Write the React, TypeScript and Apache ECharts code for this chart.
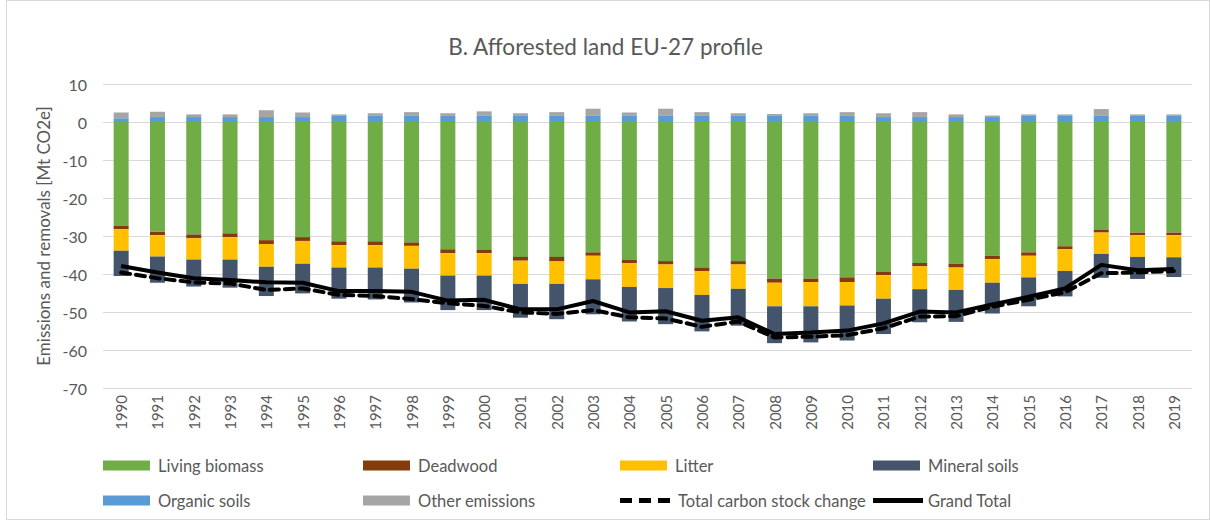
import React, { useEffect, useRef } from "react";
import * as echarts from "echarts";

const years = [
  "1990","1991","1992","1993","1994","1995","1996","1997","1998","1999",
  "2000","2001","2002","2003","2004","2005","2006","2007","2008","2009",
  "2010","2011","2012","2013","2014","2015","2016","2017","2018","2019",
];

const livingBiomass = [
  -27.3, -28.9, -29.6, -29.3, -31.1, -30.3, -31.4, -31.4, -31.7, -33.5,
  -33.6, -35.5, -35.5, -34.3, -36.2, -36.6, -38.4, -36.6, -41.2, -41.2,
  -40.9, -39.4, -37.1, -37.3, -35.2, -34.3, -32.7, -28.3, -29.1, -29.1,
];
const deadwood = [
  -0.9, -0.9, -1.0, -1.0, -1.0, -1.0, -1.0, -1.0, -0.9, -1.0,
  -0.9, -1.0, -1.2, -0.9, -1.0, -0.9, -0.9, -0.9, -1.1, -0.9,
  -1.2, -0.9, -0.9, -1.0, -0.9, -0.9, -0.8, -0.8, -0.7, -0.7,
];
const litter = [
  -5.7, -5.6, -5.6, -5.9, -6.0, -6.0, -5.9, -5.9, -6.0, -5.9,
  -5.9, -6.1, -5.9, -6.2, -6.2, -6.2, -6.2, -6.4, -6.2, -6.4,
  -6.2, -6.2, -6.0, -5.9, -6.2, -5.7, -5.7, -5.6, -5.7, -5.8,
];
const mineralSoils = [
  -6.6, -6.9, -7.1, -7.4, -7.7, -7.8, -8.2, -8.4, -8.9, -9.1,
  -9.1, -8.9, -9.3, -9.2, -9.1, -9.5, -9.6, -9.7, -9.7, -9.5,
  -9.2, -9.3, -8.7, -8.4, -8.1, -7.6, -6.7, -6.3, -5.8, -5.2,
];
const organicSoils = [
  1.0, 1.3, 1.3, 1.3, 1.3, 1.3, 1.6, 1.6, 1.6, 1.6,
  1.6, 1.6, 1.6, 1.6, 1.6, 1.6, 1.6, 1.6, 1.6, 1.6,
  1.6, 1.3, 1.3, 1.3, 1.3, 1.6, 1.6, 1.6, 1.6, 1.6,
];
const otherEmissions = [
  1.5, 1.4, 0.7, 0.7, 1.8, 1.2, 0.4, 0.7, 1.0, 0.7,
  1.2, 0.7, 1.0, 1.9, 0.9, 1.9, 1.0, 0.7, 0.5, 0.7,
  1.0, 1.0, 1.3, 0.7, 0.4, 0.4, 0.4, 1.8, 0.4, 0.4,
];
const totalCarbonStockChange = [
  -39.6, -41.1, -42.2, -42.5, -44.2, -43.8, -45.5, -45.8, -46.6, -47.7,
  -48.4, -50.1, -50.5, -49.5, -51.4, -51.7, -53.9, -52.5, -56.7, -56.5,
  -56.1, -54.3, -51.2, -51.1, -48.6, -46.8, -44.8, -39.8, -39.6, -39.2,
];
const grandTotal = [
  -37.9, -39.6, -41.1, -41.6, -42.2, -42.3, -44.5, -44.5, -44.7, -47.0,
  -46.8, -49.3, -49.3, -47.1, -50.1, -49.8, -52.3, -51.4, -55.8, -55.4,
  -54.9, -53.0, -49.9, -50.1, -48.0, -46.0, -43.8, -37.6, -39.0, -38.7,
];

const FONT = "Lato, 'Liberation Sans', sans-serif";
const TXT = "#595959";

const DASH_ICON = "path://M0,0h12v5h-12z M19,0h12v5h-12z M38,0h12v5h-12z";
const SOLID_ICON = "path://M0,0h50v5h-50z";

export default function App() {
  const ref = useRef<HTMLDivElement>(null);
  useEffect(() => {
    document.body.style.margin = "0";
    if (!ref.current) return;
    const chart = echarts.init(ref.current, null, { renderer: "svg" });

    const barDefs = [
      { name: "Living biomass", data: livingBiomass, color: "#70AD47" },
      { name: "Deadwood", data: deadwood, color: "#843C0C" },
      { name: "Litter", data: litter, color: "#FFC000" },
      { name: "Mineral soils", data: mineralSoils, color: "#44546A" },
      { name: "Organic soils", data: organicSoils, color: "#5B9BD5" },
      { name: "Other emissions", data: otherEmissions, color: "#A5A5A5" },
    ];
    const barSeries = barDefs.map((s) => ({
      name: s.name,
      type: "bar",
      stack: "all",
      data: s.data,
      barWidth: 15,
      itemStyle: { color: s.color },
    }));

    const colLeft = [103, 363, 620, 873];
    const rowTop = [457, 492];
    const legendItems = [
      "Living biomass", "Deadwood", "Litter", "Mineral soils",
      "Organic soils", "Other emissions", "Total carbon stock change", "Grand Total",
    ];
    const legends = legendItems.map((name, i) => {
      const isLine = i >= 6;
      const base: any = {
        data: [name],
        left: colLeft[i % 4],
        top: rowTop[Math.floor(i / 4)],
        itemWidth: isLine ? 50 : 47,
        itemHeight: isLine ? 5 : 10,
        itemGap: 0,
        padding: 0,
        selectedMode: false,
        textStyle: {
          color: TXT,
          fontSize: 16.5,
          fontFamily: FONT,
          padding: [0, 0, 0, i === 7 ? 0 : 3],
        },
      };
      if (isLine) {
        base.icon = i === 6 ? DASH_ICON : SOLID_ICON;
        base.itemStyle = { color: "#000000" };
      } else {
        base.icon = "rect";
      }
      return base;
    });

    chart.setOption({
      animation: false,
      backgroundColor: "#ffffff",
      title: {
        text: "B. Afforested land EU-27 profile",
        left: "center",
        top: 30,
        textStyle: { color: TXT, fontSize: 22.5, fontWeight: "normal", fontFamily: FONT },
      },
      graphic: [
        {
          type: "rect",
          shape: { x: 6.5, y: 0.5, width: 1203, height: 519 },
          style: { fill: "none", stroke: "#D9D9D9", lineWidth: 1 },
          silent: true,
        },
      ],
      legend: legends,
      grid: { left: 103, right: 19, top: 84, bottom: 133, containLabel: false },
      xAxis: {
        type: "category",
        data: years,
        axisLine: { show: false, onZero: false },
        axisTick: { show: false },
        axisLabel: {
          rotate: 90,
          color: TXT,
          fontSize: 15,
          fontFamily: FONT,
          margin: 7,
          interval: 0,
        },
      },
      yAxis: {
        type: "value",
        min: -70,
        max: 10,
        interval: 10,
        name: "Emissions and removals [Mt CO2e]",
        nameLocation: "middle",
        nameGap: 48,
        nameTextStyle: { color: TXT, fontSize: 17, fontFamily: FONT },
        axisLine: { show: false },
        axisTick: { show: false },
        axisLabel: { color: TXT, fontSize: 16, fontFamily: FONT, margin: 16 },
        splitLine: { lineStyle: { color: "#D9D9D9", width: 1 } },
      },
      series: [
        ...barSeries,
        {
          name: "Total carbon stock change",
          type: "line",
          data: totalCarbonStockChange,
          symbol: "none",
          z: 5,
          lineStyle: { color: "#000000", width: 4, type: [9, 6], cap: "round" },
          itemStyle: { color: "#000000" },
        },
        {
          name: "Grand Total",
          type: "line",
          data: grandTotal,
          symbol: "none",
          z: 6,
          lineStyle: { color: "#000000", width: 4, type: "solid" },
          itemStyle: { color: "#000000" },
        },
      ],
    });

    return () => chart.dispose();
  }, []);

  return <div ref={ref} style={{ width: 1211, height: 521 }} />;
}
